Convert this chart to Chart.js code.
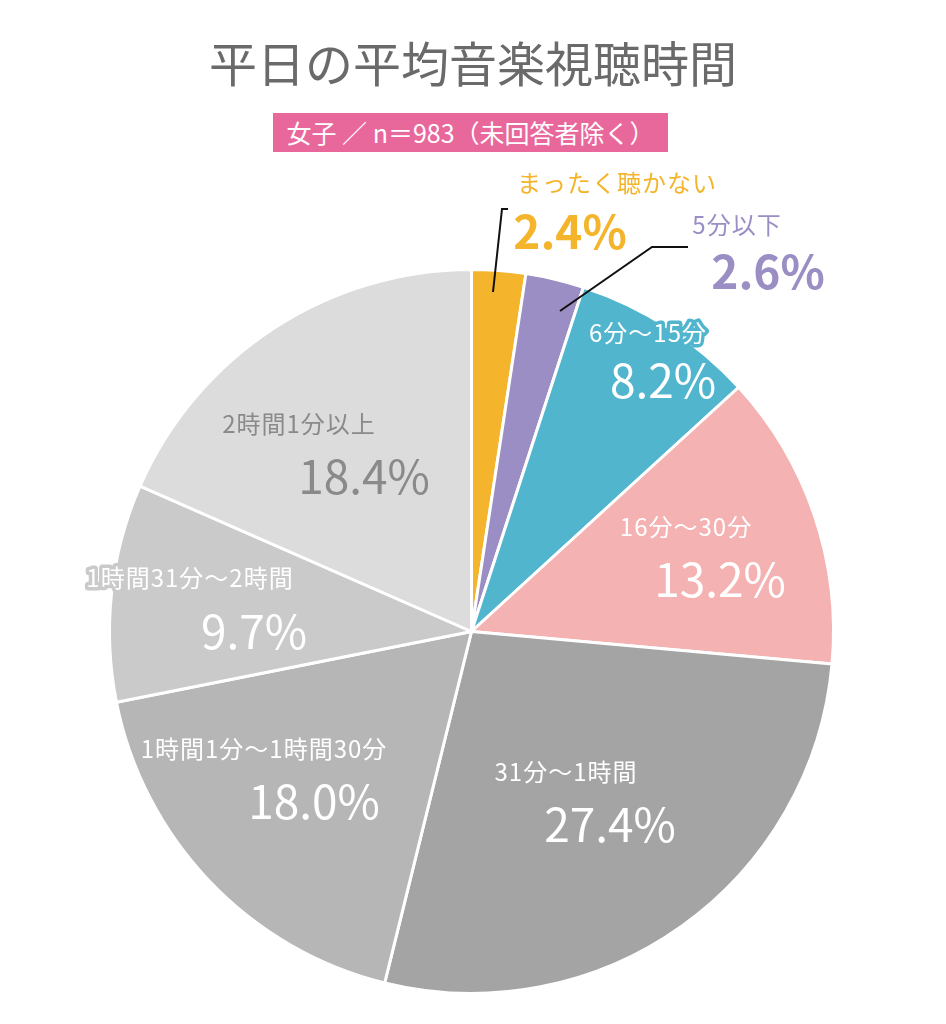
<!DOCTYPE html>
<html lang="ja">
<head>
<meta charset="utf-8">
<script src="https://cdn.jsdelivr.net/npm/chart.js@4.4.1/dist/chart.umd.min.js"></script>
<style>
    html, body { margin: 0; padding: 0; background: #fff; }
    #wrap { position: relative; width: 946px; height: 1024px; }
    #title {
        position: absolute; left: 0; top: 30px; width: 946px; text-align: center;
        font-family: "Noto Sans CJK JP", sans-serif; font-size: 48px; color: #6a6a6a;
        line-height: 62px;
    }
    #sub {
        position: absolute; left: 273px; top: 113px; width: 395px; height: 39px;
        background: #e9689c; color: #fff; text-align: center;
        font-family: "Noto Sans CJK JP", sans-serif; font-size: 25px; line-height: 39px;
    }
    canvas { position: absolute; left: 0; top: 0; }
</style>
</head>
<body>
<div id="wrap">
    <canvas id="pieChart" width="946" height="1024"></canvas>
    <div id="title">平日の平均音楽視聴時間</div>
    <div id="sub">女子 ／ n＝983（未回答者除く）</div>
</div>
<script>
// data
const categories = ["まったく聴かない", "5分以下", "6分～15分", "16分～30分", "31分～1時間", "1時間1分～1時間30分", "1時間31分～2時間", "2時間1分以上"];
const shares = [2.4, 2.6, 8.2, 13.2, 27.4, 18.0, 9.7, 18.4];
const sliceColors = ["#f4b52c", "#9a8ec4", "#52b5ce", "#f4b2b2", "#a4a4a4", "#b6b6b6", "#cacaca", "#dcdcdc"];
const textColors = ["#f4b52c", "#9a8ec4", "#ffffff", "#ffffff", "#ffffff", "#ffffff", "#ffffff", "#8a8a8a"];

// where each label sits (name line, then percent line)
const labelSpots = [
    { nx: 617, ny: 183, px: 570, py: 232, bold: true, halo: false },
    { nx: 737, ny: 225, px: 768, py: 272, bold: true, halo: false },
    { nx: 648, ny: 333, px: 663, py: 381 },
    { nx: 686, ny: 527, px: 720, py: 580 },
    { nx: 566, ny: 772, px: 610, py: 825 },
    { nx: 264, ny: 749, px: 314, py: 802 },
    { nx: 190, ny: 578, px: 254, py: 632 },
    { nx: 299, ny: 424, px: 364, py: 477 }
];

// leader lines for the two thin slices
const leaders = [
    [[508, 209], [502, 209], [493, 292]],
    [[688, 247], [652, 247], [560, 311]]
];

const sliceLabels = {
    id: "sliceLabels",
    afterDatasetsDraw(chart) {
        let ctx = chart.ctx;
        ctx.save();

        ctx.strokeStyle = "#111";
        ctx.lineWidth = 2;
        leaders.forEach(pts => {
            ctx.beginPath();
            ctx.moveTo(pts[0][0], pts[0][1]);
            for (let i = 1; i < pts.length; i++) ctx.lineTo(pts[i][0], pts[i][1]);
            ctx.stroke();
        });

        ctx.textAlign = "center";
        ctx.textBaseline = "middle";
        ctx.lineJoin = "round";

        categories.forEach((name, i) => {
            let spot = labelSpots[i];
            let pct = shares[i].toFixed(1) + "%";
            let halo = spot.halo !== false;

            ctx.font = '24px "Noto Sans CJK JP"';
            ctx.letterSpacing = "1px";
            if (halo) {
                ctx.strokeStyle = sliceColors[i];
                ctx.lineWidth = 7;
                ctx.strokeText(name, spot.nx, spot.ny);
            }
            ctx.fillStyle = textColors[i];
            ctx.fillText(name, spot.nx, spot.ny);

            ctx.font = (spot.bold ? "bold " : "") + '46px "Noto Sans CJK JP"';
            ctx.letterSpacing = "0px";
            if (halo) {
                ctx.strokeStyle = sliceColors[i];
                ctx.lineWidth = 7;
                ctx.strokeText(pct, spot.px, spot.py);
            }
            ctx.fillText(pct, spot.px, spot.py);
        });

        ctx.restore();
    }
};

let ctx = document.getElementById("pieChart").getContext("2d");
new Chart(ctx, {
    type: "pie",
    data: {
        labels: categories,
        datasets: [{
            data: shares,
            backgroundColor: sliceColors,
            borderColor: "#ffffff",
            borderWidth: 3
        }]
    },
    options: {
        responsive: false,
        animation: false,
        layout: { padding: { left: 108, right: 111, top: 268, bottom: 29 } },
        plugins: {
            legend: { display: false },
            tooltip: { enabled: false }
        }
    },
    plugins: [sliceLabels]
});
</script>
</body>
</html>
